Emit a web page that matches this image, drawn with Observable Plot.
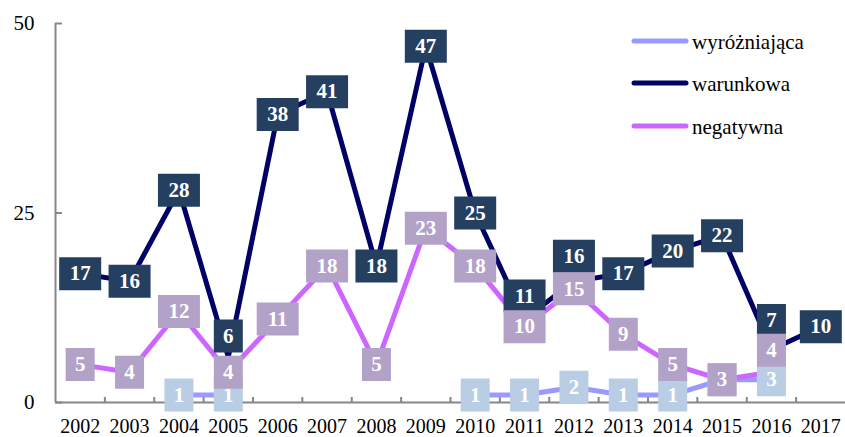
<!DOCTYPE html>
<html><head><meta charset="utf-8">
<script src="https://cdn.jsdelivr.net/npm/d3@7"></script>
<script src="https://cdn.jsdelivr.net/npm/@observablehq/plot@0.6"></script>
<style>
body{margin:0;background:#fff;}
#chart{position:relative;width:845px;height:437px;}
#legend{position:absolute;left:0;top:0;pointer-events:none;}
</style></head><body><div id="chart"></div>
<script>
const years = [2002,2003,2004,2005,2006,2007,2008,2009,2010,2011,2012,2013,2014,2015,2016,2017];
const wyrozniajaca = [null,null,1,1,null,null,null,null,1,1,2,1,1,3,3,null];
const warunkowa = [17,16,28,6,38,41,18,47,25,11,16,17,20,22,7,10];
const negatywna = [5,4,12,4,11,18,5,23,18,10,15,9,5,3,4,null];
const seriesNames = ["wyróżniająca","warunkowa","negatywna"];
const yTicks = [0,25,50];

// styles
const lineColors = {"wyróżniająca":"#9999FF","warunkowa":"#000066","negatywna":"#CC66FF"};
const boxColors = {"wyróżniająca":"#B9CDE5","warunkowa":"#243F60","negatywna":"#B3A2C7"};
// manual label nudges (pixels, negative = up), as in the original
const labelNudge = {"warunkowa":{2005:-21,2011:-23,2012:-25,2016:-29},"negatywna":{2016:-22}};

const W = 845, H = 437, mT = 23, mB = 35, mL = 55, mR = 0;
const yMin = 0, yMax = 50;
const pxPerUnit = (H - mT - mB) / (yMax - yMin);
const xMin = years[0] - 0.5, xMax = years[years.length-1] + 0.5;
const boundaries = years.slice(1).map(y => y - 0.5);

const valuesBy = {"wyróżniająca":wyrozniajaca,"warunkowa":warunkowa,"negatywna":negatywna};
const rows = {};
const labels = {};
for (const s of seriesNames) {
  rows[s] = years.map((yr,i) => ({year:yr, value:valuesBy[s][i]}));
  labels[s] = rows[s].filter(d => d.value != null).map(d => {
    const n = (labelNudge[s] && labelNudge[s][d.year]) || 0;
    const t = String(d.value);
    return {year:d.year, ly:d.value - n / pxPerUnit, text:t, wide:t.length > 1};
  });
}
const rectSymbol = (w,h) => ({draw(ctx){ ctx.rect(-w/2,-h/2,w,h); }});
const wideSym = rectSymbol(42,33), narrowSym = rectSymbol(29,33);

const marks = [
  Plot.ruleY([yMin], {stroke:"#868686", strokeWidth:2}),
  Plot.ruleX([xMin], {stroke:"#868686", strokeWidth:2}),
  Plot.axisY(yTicks, {tickSize:-7, stroke:"#868686", strokeWidth:2, fill:"none", label:null}),
  Plot.axisY(yTicks, {tickSize:0, tickPadding:21, fill:"#000", label:null}),
  Plot.axisX(boundaries, {tickSize:-5, stroke:"#868686", strokeWidth:2, fill:"none", tickFormat:() => "", label:null}),
  Plot.axisX(years, {tickSize:0, tickPadding:16, tickFormat:"d", fill:"#000", fontSize:20, label:null})
];
for (const s of seriesNames) {
  marks.push(Plot.line(rows[s], {x:"year", y:"value", stroke:lineColors[s], strokeWidth:5, strokeLinejoin:"round", strokeLinecap:"butt"}));
}
for (const s of seriesNames) {
  marks.push(Plot.dot(labels[s].filter(d => d.wide), {x:"year", y:"ly", symbol:wideSym, fill:boxColors[s], stroke:"none"}));
  marks.push(Plot.dot(labels[s].filter(d => !d.wide), {x:"year", y:"ly", symbol:narrowSym, fill:boxColors[s], stroke:"none"}));
  marks.push(Plot.text(labels[s], {x:"year", y:"ly", text:"text", fill:"#fff", fontWeight:"bold", fontSize:21, fontFamily:"Liberation Serif"}));
}

const chart = Plot.plot({
  width:W, height:H, marginTop:mT, marginBottom:mB, marginLeft:mL, marginRight:mR,
  style:{fontFamily:"Liberation Serif", fontSize:"21px", color:"#000", background:"#fff"},
  x:{domain:[xMin,xMax], label:null},
  y:{domain:[yMin,yMax], label:null},
  marks
});
const host = document.getElementById("chart");
host.appendChild(chart);

// legend overlay
const lg = d3.select(host).append("svg").attr("id","legend").attr("width",W).attr("height",H);
const legY = [41,83,126];
seriesNames.forEach((s,i) => {
  lg.append("line").attr("x1",634).attr("x2",686).attr("y1",legY[i]).attr("y2",legY[i])
    .attr("stroke",lineColors[s]).attr("stroke-width",5).attr("stroke-linecap","round");
  lg.append("text").attr("x",692).attr("y",legY[i]+7.5).text(s)
    .attr("font-family","Liberation Serif").attr("font-size",21).attr("fill","#000");
});
</script></body></html>
